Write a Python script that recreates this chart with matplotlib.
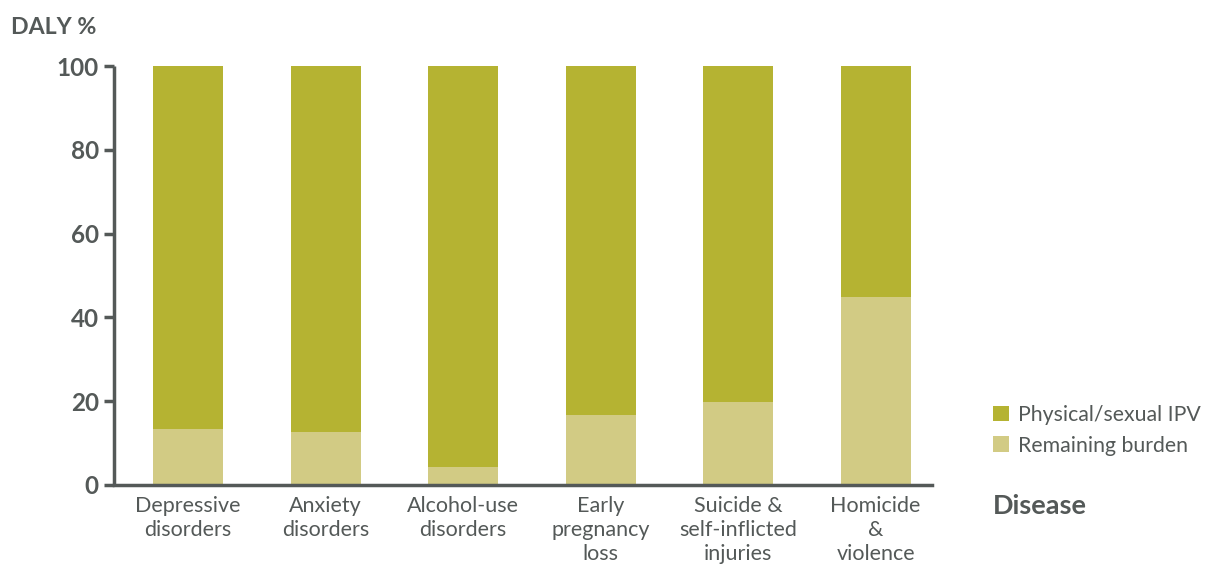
import matplotlib.pyplot as plt
import numpy as np

diseases = ["Depressive\ndisorders", "Anxiety\ndisorders", "Alcohol-use\ndisorders",
            "Early\npregnancy\nloss", "Suicide &\nself-inflicted\ninjuries", "Homicide\n&\nviolence"]
remaining = [13.4, 12.7, 4.4, 16.8, 19.9, 44.9]
ipv = [86.6, 87.3, 95.6, 83.2, 80.1, 55.1]
yticks = [0, 20, 40, 60, 80, 100]

dark = "#b5b332"
light = "#d2cb84"
grey = "#545958"

plt.rcParams['font.family'] = ['Lato', 'DejaVu Sans']

fig = plt.figure(figsize=(12.1, 5.68), dpi=100)
ax = fig.add_axes([114 / 1210, 1 - 485 / 568, (932 - 114) / 1210, (485 - 66) / 568])

x = np.arange(len(diseases))
w = 0.51
ax.bar(x, remaining, w, color=light, label="Remaining burden")
ax.bar(x, ipv, w, bottom=remaining, color=dark, label="Physical/sexual IPV")

ax.set_xlim(-0.54, 5.41)
ax.set_ylim(0, 100)
ax.set_yticks(yticks)
ax.set_xticks(x)
ax.set_xticklabels(diseases, fontsize=15.5, color=grey, linespacing=1.26)
ax.tick_params(axis='x', length=0, pad=8)
ax.tick_params(axis='y', length=7, width=2.5, color=grey, labelsize=17.5, labelcolor=grey, pad=4)
for lab in ax.get_yticklabels():
    lab.set_fontweight('bold')

for s in ['top', 'right']:
    ax.spines[s].set_visible(False)
for s in ['left', 'bottom']:
    ax.spines[s].set_color(grey)
    ax.spines[s].set_linewidth(2.5)
ax.spines['left'].set_capstyle('butt')

handles, labels = ax.get_legend_handles_labels()
leg = fig.legend(handles[::-1], labels[::-1], loc='upper left',
                 bbox_to_anchor=(993 / 1210, 1 - 405 / 568), frameon=False,
                 fontsize=15.3, handlelength=0.75, handleheight=0.75, handletextpad=0.45,
                 labelspacing=0.5, borderaxespad=0, borderpad=0)
for t in leg.get_texts():
    t.set_color(grey)

fig.text(11 / 1210, 1 - 27 / 568, "DALY %", fontsize=16.7, fontweight='bold',
         color=grey, va='center', ha='left')
fig.text(993 / 1210, 1 - 506 / 568, "Disease", fontsize=19.5, fontweight='bold',
         color=grey, va='center', ha='left')

fig.savefig("out.png", dpi=100)
